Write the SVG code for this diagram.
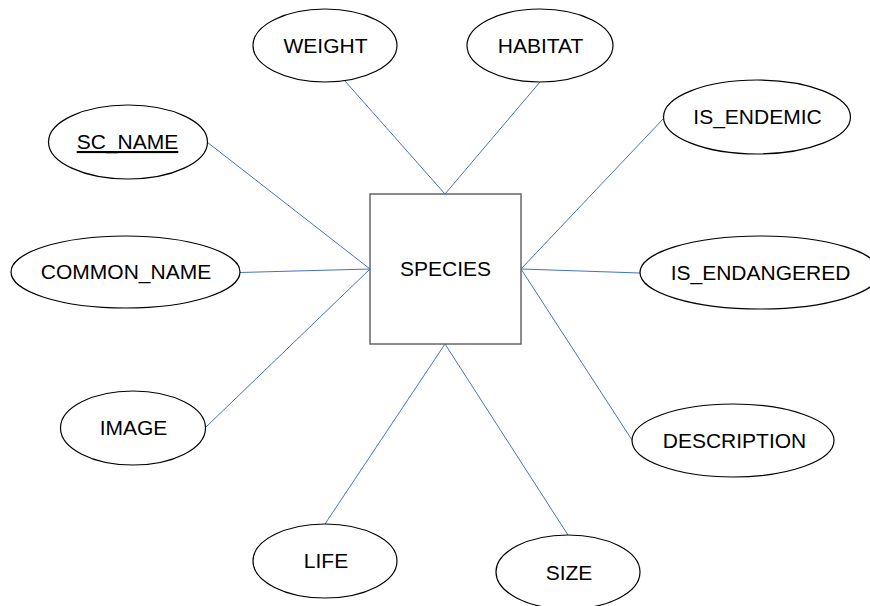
<svg xmlns="http://www.w3.org/2000/svg" width="870" height="606" viewBox="0 0 870 606">
<style>
.attr{fill:#fff;stroke:#000;stroke-width:1.2}
.ent{fill:#fff;stroke:#666;stroke-width:1.5}
text{font-family:"Liberation Sans",Arial,sans-serif;font-size:21px;fill:#000;text-anchor:middle}
.conn line{stroke:#4472C4;stroke-width:1}
</style>
<rect width="870" height="606" fill="#fff"/>
<g id="connectors" class="conn">
<line x1="345" y1="81" x2="445" y2="194"/>
<line x1="540" y1="82" x2="445" y2="194"/>
<line x1="207" y1="142" x2="370" y2="269"/>
<line x1="240" y1="272.5" x2="370" y2="269"/>
<line x1="206" y1="427" x2="370" y2="269"/>
<line x1="664" y1="118" x2="521" y2="269"/>
<line x1="640" y1="273" x2="521" y2="269"/>
<line x1="632" y1="440" x2="521" y2="269"/>
<line x1="325" y1="524" x2="445" y2="344"/>
<line x1="568" y1="535" x2="445" y2="344"/>
</g>
<g id="species">
<rect class="ent" x="370" y="194" width="151" height="150"/>
<text x="445.5" y="276">SPECIES</text>
</g>
<g id="weight">
<ellipse class="attr" cx="325" cy="45.5" rx="72" ry="36.5"/>
<text x="325.5" y="52.5">WEIGHT</text>
</g>
<g id="habitat">
<ellipse class="attr" cx="540" cy="45.5" rx="73" ry="36.5"/>
<text x="540.5" y="52.5">HABITAT</text>
</g>
<g id="sc_name">
<ellipse class="attr" cx="128" cy="142" rx="79.5" ry="37"/>
<text x="127.5" y="149" text-decoration="underline">SC_NAME</text>
</g>
<g id="common_name">
<ellipse class="attr" cx="125.5" cy="272" rx="114.5" ry="36"/>
<text x="126" y="279">COMMON_NAME</text>
</g>
<g id="image">
<ellipse class="attr" cx="133" cy="428" rx="72.5" ry="37"/>
<text x="133.5" y="435">IMAGE</text>
</g>
<g id="life">
<ellipse class="attr" cx="325" cy="561" rx="72" ry="37"/>
<text x="326" y="568">LIFE</text>
</g>
<g id="size">
<ellipse class="attr" cx="568" cy="572" rx="72" ry="37"/>
<text x="569" y="580">SIZE</text>
</g>
<g id="is_endemic">
<ellipse class="attr" cx="757" cy="117" rx="93.5" ry="37"/>
<text x="757.5" y="124">IS_ENDEMIC</text>
</g>
<g id="is_endangered">
<ellipse class="attr" cx="760" cy="272.5" rx="120" ry="36.5"/>
<text x="760.5" y="279.5">IS_ENDANGERED</text>
</g>
<g id="description">
<ellipse class="attr" cx="733" cy="440.5" rx="101" ry="36.5"/>
<text x="734.5" y="447.5">DESCRIPTION</text>
</g>
</svg>
